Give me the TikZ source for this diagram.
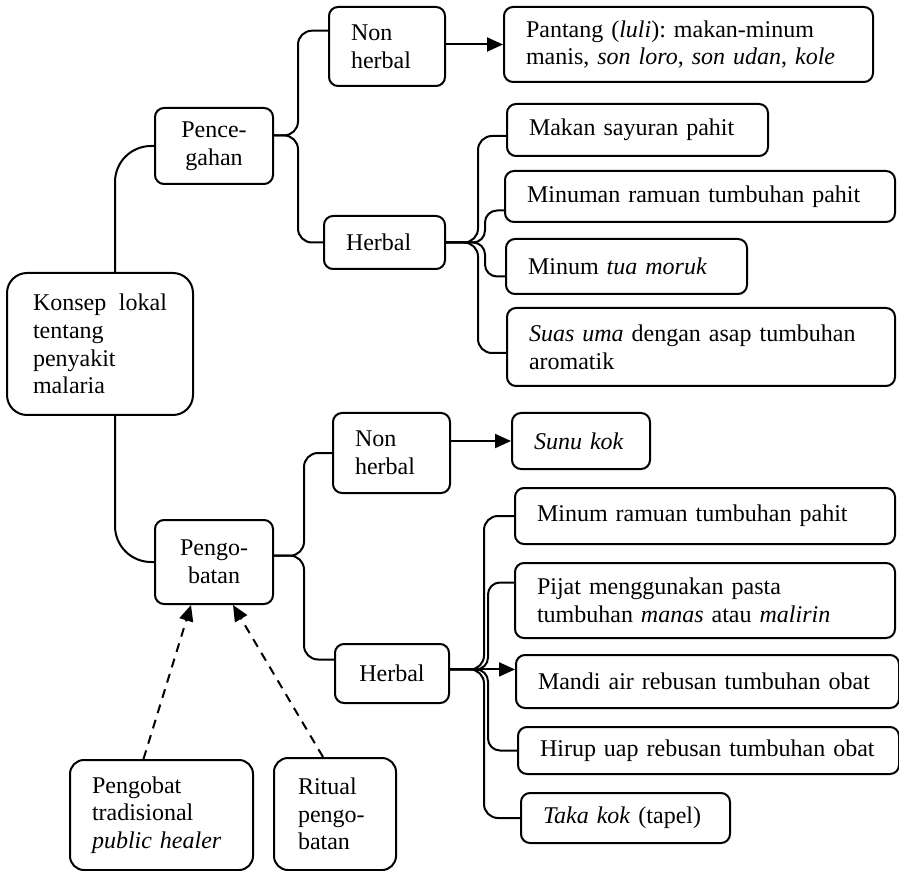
\documentclass[tikz,border=0pt]{standalone}
\usepackage{fontspec}
\setmainfont{Liberation Serif}
\usepackage{tikz}
\usetikzlibrary{arrows.meta,positioning,calc}
\frenchspacing

\tikzset{
  box/.style={draw, line width=1pt, rounded corners=4.5pt, anchor=north west,
    align=left, inner xsep=11pt, font=\fontsize{12pt}{13.8pt}\selectfont},
  cbox/.style={box, align=center, inner xsep=2pt},
  brace/.style={line width=1pt, rounded corners=7pt},
  arr/.style={line width=1pt, -{Triangle[length=8pt,width=7pt]}},
  dasharr/.style={arr, dash pattern=on 4.5pt off 3.5pt}
}

\begin{document}
\begin{tikzpicture}[x=0.5pt, y=-0.5pt]
    \useasboundingbox (0,0) rectangle (899,871);

    % Konsep lokal
    \node[box, rounded corners=10pt, inner xsep=13pt, text width=67pt, minimum height=71pt] (konsep) at (6,272) {Konsep\hfill lokal\\tentang\\penyakit\\malaria};

    % Pencegahan
    \node[cbox, minimum width=59pt, minimum height=38pt] (pence) at (154,107) {Pence-\\gahan};
    \node[box, text width=36pt, minimum height=39.5pt] (nonA) at (328,6) {Non\\herbal};
    \node[box, text width=38.5pt, minimum height=26.5pt] (herbA) at (323,215) {Herbal};
    \node[box, text width=162.5pt, minimum height=37.5pt] (pantang) at (503,6) {Pantang (\textit{luli}): makan-minum\\manis, \textit{son loro}, \textit{son udan}, \textit{kole}};
    \node[box, text width=108.5pt, minimum height=26pt] (makan) at (506,103) {Makan sayuran pahit};
    \node[box, text width=173pt, minimum height=25.5pt] (minuman) at (504,170) {Minuman ramuan tumbuhan pahit};
    \node[box, text width=98.5pt, minimum height=27.5pt] (tua) at (505,238) {Minum \textit{tua moruk}};
    \node[box, text width=172pt, minimum height=39pt] (suas) at (506,307) {\textit{Suas uma} dengan asap tumbuhan\\aromatik};

    % Pengobatan
    \node[cbox, minimum width=59pt, minimum height=42pt] (pengob) at (154,519) {Pengo-\\batan};
    \node[box, text width=36.5pt, minimum height=40pt] (nonB) at (332,412) {Non\\herbal};
    \node[cbox, minimum width=57pt, minimum height=29.5pt] (herbB) at (334,643) {Herbal};
    \node[box, text width=47pt, minimum height=28pt] (sunu) at (511,412) {\textit{Sunu kok}};
    \node[box, text width=168pt, minimum height=28pt] (minumB) at (514,487) {Minum ramuan tumbuhan pahit};
    \node[box, text width=168pt, minimum height=37.5pt] (pijat) at (514,562) {Pijat menggunakan pasta\\tumbuhan \textit{manas} atau \textit{malirin}};
    \node[box, text width=169.5pt, minimum height=26.5pt] (mandi) at (515,654) {Mandi air rebusan tumbuhan obat};
    \node[box, text width=168.5pt, minimum height=23.5pt] (hirup) at (517,726) {Hirup uap rebusan tumbuhan obat};
    \node[box, text width=82.5pt, minimum height=25pt] (taka) at (520,792) {\textit{Taka kok} (tapel)};

    % Pelaku
    \node[box, rounded corners=7pt, text width=69.5pt, minimum height=55pt] (pengobat) at (69,759) {Pengobat\\tradisional\\\textit{public healer}};
    \node[box, rounded corners=7pt, inner xsep=12pt, text width=37pt, minimum height=56pt] (ritual) at (273,757) {Ritual\\pengo-\\batan};

    % links from Konsep
    \draw[brace, rounded corners=18pt] ([xshift=7.5pt]konsep.north) |- (pence.west);
    \draw[brace, rounded corners=18pt] ([xshift=7.5pt]konsep.south) |- (pengob.west);

    % Pencegahan branches
    \draw[brace] (pence.10) -- ++(24,0) |- (nonA.165);
    \draw[brace] (pence.10) -- ++(24,0) |- (herbA.west);
    \draw[arr] (nonA.east |- pantang.west) -- (pantang.west);
    \draw[brace] (herbA.east) -- ++(32,0) |- ([yshift=-3pt]makan.west);
    \draw[brace] (herbA.east) -- ++(32,0) |- ([yshift=-3pt]suas.west);
    \draw[brace, rounded corners=6pt] (herbA.east) -- ++(39,0) |- ([yshift=-7pt]minuman.west);
    \draw[brace, rounded corners=6pt] (herbA.east) -- ++(39,0) |- ([yshift=-5pt]tua.west);

    % Pengobatan branches
    \draw[brace] (pengob.6) -- ++(30,0) |- (nonB.west);
    \draw[brace] (pengob.6) -- ++(30,0) |- ([yshift=7pt]herbB.west);
    \draw[arr] (nonB.east |- sunu.west) -- (sunu.west);
    \draw[brace] (herbB.4) -- ++(34,0) |- (minumB.west);
    \draw[brace] (herbB.4) -- ++(34,0) |- (taka.west);
    \draw[brace, rounded corners=6pt] (herbB.4) -- ++(38,0) |- ([yshift=9pt]pijat.west);
    \draw[brace, rounded corners=6pt] (herbB.4) -- ++(38,0) |- (hirup.west);
    \draw[arr] (herbB.4) -- (herbB.4 -| mandi.west);

    % dashed arrows
    \draw[dasharr] ([xshift=-9pt]pengobat.north) -- ([xshift=-11.5pt]pengob.south);
    \draw[dasharr] ([xshift=-6pt]ritual.north) -- ([xshift=9.5pt]pengob.south);
\end{tikzpicture}
\end{document}
